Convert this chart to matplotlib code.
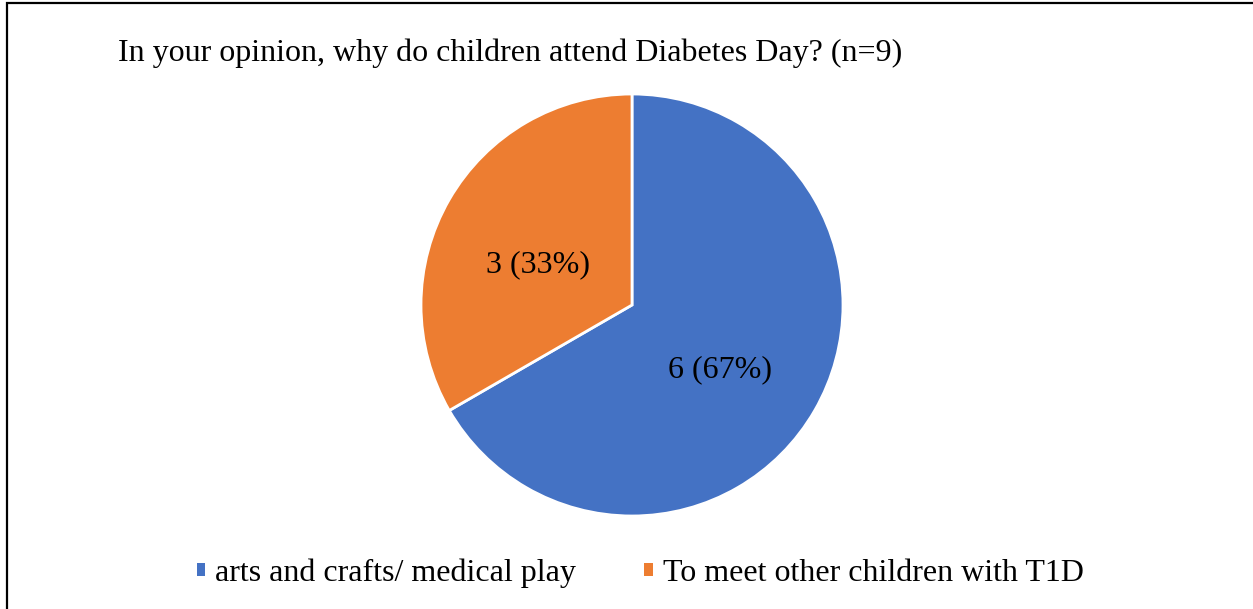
import matplotlib
matplotlib.use("Agg")
import matplotlib.pyplot as plt
from matplotlib.patches import Rectangle, Patch
from matplotlib.transforms import offset_copy

title = "In your opinion, why do children attend Diabetes Day? (n=9)"
categories = ["arts and crafts/ medical play", "To meet other children with T1D"]
values = [6, 3]
colors = ["#4472C4", "#ED7D31"]

plt.rcParams['font.family'] = ['Liberation Serif', 'DejaVu Serif']

W, H = 1253, 609
fig = plt.figure(figsize=(W / 100, H / 100), dpi=100)

# border (only left and top visible in the reference)
fig.patches.append(Rectangle((7 / W, -0.1), 1.2, 1.1 - 3 / H, transform=fig.transFigure,
                             fill=False, edgecolor="black", linewidth=1.6, zorder=0))

cx, cy, r = 632, 305, 211
ax = fig.add_axes([(cx - r) / W, (H - cy - r) / H, 2 * r / W, 2 * r / H])
total = sum(values)

def fmt(p):
    n = int(round(p * total / 100))
    return f"{n} ({p:.0f}%)"

wedges, texts, autotexts = ax.pie(values, colors=colors, startangle=90, counterclock=False,
                                  autopct=fmt, pctdistance=0.5, radius=1,
                                  wedgeprops=dict(edgecolor="white", linewidth=2),
                                  textprops=dict(fontsize=23, color="black"))
for t in autotexts:
    t.set_transform(offset_copy(t.get_transform(), fig=fig, x=-3, y=-12, units='dots'))
ax.set_xlim(-1, 1)
ax.set_ylim(-1, 1)
ax.set_aspect('auto')
ax.axis('off')

fig.text(118 / W, 1 - 53 / H, title, fontsize=23, ha='left', va='center')

handles = [Patch(facecolor=c, edgecolor='none') for c in colors]
leg = fig.legend(handles, categories, loc='center', bbox_to_anchor=(640 / W, 1 - 573 / H),
                 ncol=2, frameon=False, fontsize=23, handlelength=0.27, handleheight=0.27,
                 handletextpad=0.3, columnspacing=2.15)

fig.savefig("out.png", dpi=100)
